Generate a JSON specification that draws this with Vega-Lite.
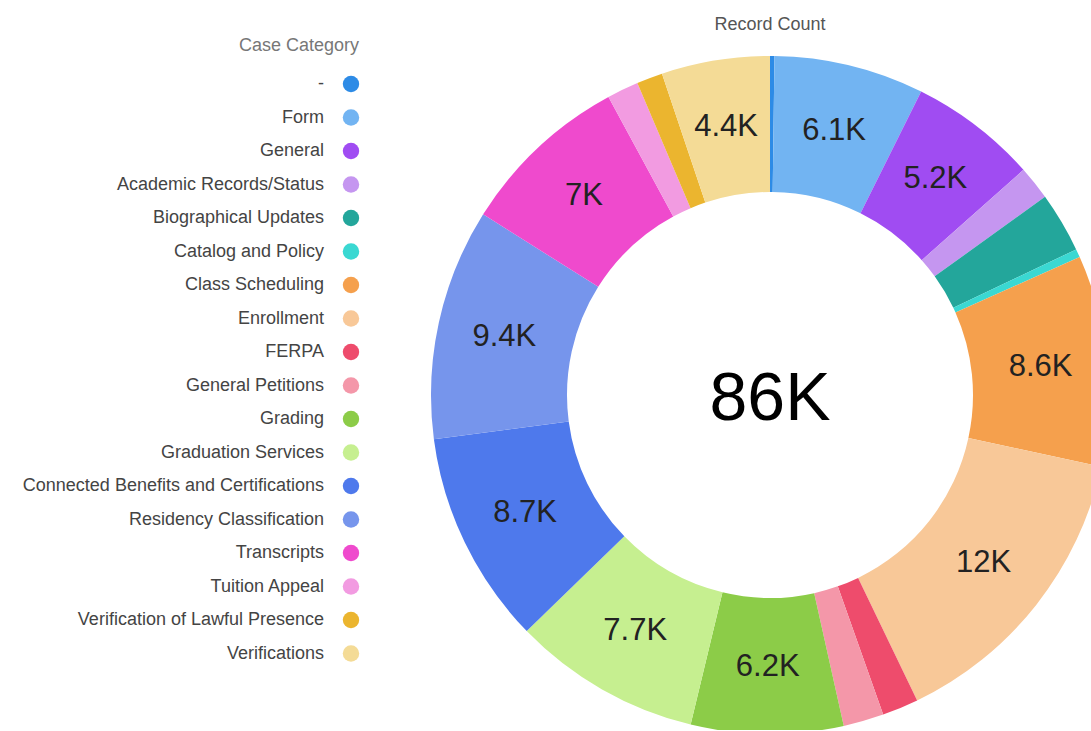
{
  "$schema": "https://vega.github.io/schema/vega-lite/v6.json",
  "width": 640,
  "height": 640,
  "autosize": {"type": "none"},
  "padding": {"left": 450, "top": 75, "right": 1, "bottom": 15},
  "background": "white",
  "title": {"text": "Record Count", "fontSize": 18, "fontWeight": "normal", "color": "#555555", "font": "Liberation Sans", "offset": 3, "anchor": "middle"},
  "data": {"values": [
    {"category": "-", "count": 180},
    {"category": "Form", "count": 6120},
    {"category": "General", "count": 5210},
    {"category": "Academic Records/Status", "count": 1390},
    {"category": "Biographical Updates", "count": 2460},
    {"category": "Catalog and Policy", "count": 340},
    {"category": "Class Scheduling", "count": 8620},
    {"category": "Enrollment", "count": 12380},
    {"category": "FERPA", "count": 1480},
    {"category": "General Petitions", "count": 1650},
    {"category": "Grading", "count": 6210},
    {"category": "Graduation Services", "count": 7690},
    {"category": "Connected Benefits and Certifications", "count": 8720},
    {"category": "Residency Classification", "count": 9440},
    {"category": "Transcripts", "count": 6980},
    {"category": "Tuition Appeal", "count": 1290},
    {"category": "Verification of Lawful Presence", "count": 1060},
    {"category": "Verifications", "count": 4420}
  ]},
  "transform": [{"window": [{"op": "row_number", "as": "idx"}]}],
  "layer": [
    {
      "mark": {"type": "arc", "innerRadius": 203, "outerRadius": 339},
      "encoding": {
        "theta": {"field": "count", "type": "quantitative", "stack": true},
        "order": {"field": "idx", "type": "quantitative"},
        "color": {
          "field": "category",
          "type": "nominal",
          "scale": {
            "domain": ["-", "Form", "General", "Academic Records/Status", "Biographical Updates", "Catalog and Policy", "Class Scheduling", "Enrollment", "FERPA", "General Petitions", "Grading", "Graduation Services", "Connected Benefits and Certifications", "Residency Classification", "Transcripts", "Tuition Appeal", "Verification of Lawful Presence", "Verifications"],
            "range": ["#2d8be6", "#72b4f2", "#a04cf2", "#c596f0", "#23a69b", "#3ad8d2", "#f5a04d", "#f8c898", "#ee4c6c", "#f497a9", "#8ccc48", "#c6ef90", "#4e79ec", "#7695ec", "#ef4acd", "#f29be1", "#ebb52f", "#f4db96"]
          },
          "legend": {
            "title": "Case Category",
            "orient": "none",
            "legendX": -211,
            "legendY": -38,
            "symbolType": "circle",
            "symbolSize": 270,
            "symbolStrokeWidth": 0,
            "labelAlign": "right",
            "labelOffset": -36,
            "labelFontSize": 18,
            "labelFont": "Liberation Sans",
            "labelColor": "#444444",
            "labelLimit": 400,
            "titleFontSize": 18,
            "titleFontWeight": "normal",
            "titleColor": "#777777",
            "titleFont": "Liberation Sans",
            "titleAnchor": "end",
            "rowPadding": 15.5,
            "titlePadding": 20
          }
        }
      }
    },
    {
      "transform": [{"calculate": "datum.count >= 4000 ? replace(format(datum.count, '.2~s'), 'k', 'K') : ''", "as": "label"}],
      "mark": {"type": "text", "radius": 272, "fontSize": 31, "font": "Liberation Sans", "color": "#222222"},
      "encoding": {
        "theta": {"field": "count", "type": "quantitative", "stack": true},
        "order": {"field": "idx", "type": "quantitative"},
        "text": {"field": "label", "type": "nominal"}
      }
    },
    {
      "transform": [
        {"aggregate": [{"op": "sum", "field": "count", "as": "total"}]},
        {"calculate": "replace(format(datum.total, '.2~s'), 'k', 'K')", "as": "label"}
      ],
      "mark": {"type": "text", "fontSize": 68, "font": "Liberation Sans", "color": "#000000", "baseline": "middle", "dy": 5},
      "encoding": {
        "text": {"field": "label", "type": "nominal"}
      }
    }
  ]
}
